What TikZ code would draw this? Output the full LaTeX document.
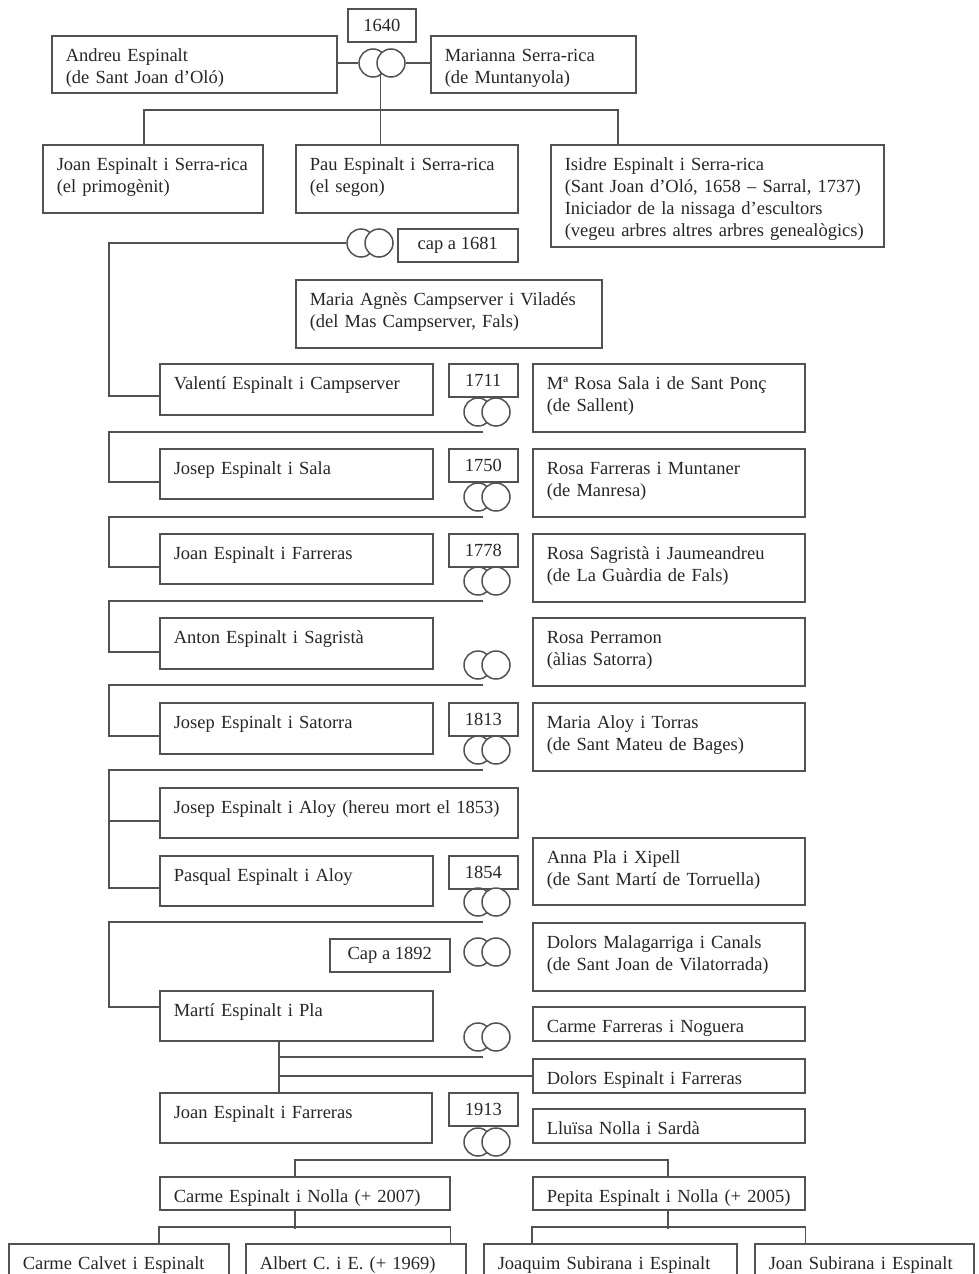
\documentclass[tikz,border=0pt]{standalone}
\usepackage{fontspec}
\setmainfont{Liberation Serif}
\usepackage{tikz}
\usetikzlibrary{positioning}

\tikzset{
    rings/.pic={
        \node[ring] (-l) at (-9,0) {};
        \node[ring, fill=white] (-r) at (9,0) {};
        \coordinate (-c) at (0,0);
        \coordinate (-s) at (-4,20);
    }
}

\begin{document}
\begin{tikzpicture}[
    x=1pt, y=-1pt,
    line width=1.5pt, draw=black!68,
    font=\fontsize{18.5}{22}\selectfont,
    box/.style 2 args={draw, anchor=north west, align=left, text=black!85,
        inner xsep=14pt, inner ysep=0pt,
        /utils/exec={\pgfmathsetmacro\boxtw{#1-28}\pgfmathsetmacro\boxdp{#2-26}},
        text width=\boxtw pt, text height=26pt, text depth=\boxdp pt},
    year/.style={draw, anchor=north west, text=black!85, inner sep=0pt,
        minimum width=#1pt, minimum height=33pt},
    year/.default=69,
    ring/.style={circle, draw, minimum size=28pt, inner sep=0pt}
]
\useasboundingbox (0,0) rectangle (979,1274);
\clip (0,0) rectangle (979,1274);

% Andreu and Marianna
\node[year=68] (y1640) at (347,8) {1640};
\node[box={285}{57}] (andreu) at (51,35) {Andreu Espinalt\\(de Sant Joan d’Oló)};
\node[box={205}{57}] (marianna) at (430,35) {Marianna Serra-rica\\(de Muntanyola)};
\pic (r1640) at (382,63) {rings};

\node[box={220}{68}] (joansr) at (42,144) {Joan Espinalt i Serra-rica\\(el primogènit)};
\node[box={222}{68}] (pau) at (295,144) {Pau Espinalt i Serra-rica\\(el segon)};
\node[box={333}{102}] (isidre) at (550,144) {Isidre Espinalt i Serra-rica\\(Sant Joan d’Oló, 1658 – Sarral, 1737)\\Iniciador de la nissaga d’escultors\\(vegeu arbres altres arbres genealògics)};

% Pau and Maria Agnes
\pic (r1681) at (370,243) {rings};
\node[year=120] (y1681) at (397,228) {cap a 1681};
\node[box={306}{68}] (agnes) at (295,279) {Maria Agnès Campserver i Viladés\\(del Mas Campserver, Fals)};

% generations
\node[box={273}{51}] (valenti) at (159,363) {Valentí Espinalt i Campserver};
\node[year] (y1711) at (448,363) {1711};
\pic (r1711) at (487,412) {rings};
\node[box={272}{68}] (rosasala) at (532,363) {Mª Rosa Sala i de Sant Ponç\\(de Sallent)};

\node[box={273}{50}] (josep1) at (159,448) {Josep Espinalt i Sala};
\node[year] (y1750) at (448,448) {1750};
\pic (r1750) at (487,497) {rings};
\node[box={272}{68}] (rosafarreras) at (532,448) {Rosa Farreras i Muntaner\\(de Manresa)};

\node[box={273}{50}] (joan1) at (159,533) {Joan Espinalt i Farreras};
\node[year] (y1778) at (448,533) {1778};
\pic (r1778) at (487,581) {rings};
\node[box={272}{68}] (rosasagrista) at (532,533) {Rosa Sagristà i Jaumeandreu\\(de La Guàrdia de Fals)};

\node[box={273}{51}] (anton) at (159,617) {Anton Espinalt i Sagristà};
\pic (ranton) at (487,665) {rings};
\node[box={272}{68}] (perramon) at (532,617) {Rosa Perramon\\(àlias Satorra)};

\node[box={273}{51}] (josep2) at (159,702) {Josep Espinalt i Satorra};
\node[year] (y1813) at (448,702) {1813};
\pic (r1813) at (487,750) {rings};
\node[box={272}{68}] (aloy) at (532,702) {Maria Aloy i Torras\\(de Sant Mateu de Bages)};

\node[box={358}{50}] (hereu) at (159,787) {Josep Espinalt i Aloy (hereu mort el 1853)};

\node[box={273}{50}] (pasqual) at (159,855) {Pasqual Espinalt i Aloy};
\node[year] (y1854) at (448,855) {1854};
\pic (r1854) at (487,902) {rings};
\node[box={272}{67}] (annapla) at (532,837) {Anna Pla i Xipell\\(de Sant Martí de Torruella)};

\node[year=120] (y1892) at (329,938) {Cap a 1892};
\pic (r1892) at (487,952) {rings};
\node[box={272}{68}] (malagarriga) at (532,922) {Dolors Malagarriga i Canals\\(de Sant Joan de Vilatorrada)};

\node[box={273}{50}] (marti) at (159,990) {Martí Espinalt i Pla};
\pic (rmarti) at (487,1037) {rings};
\node[box={272}{34}] (carmef) at (532,1006) {Carme Farreras i Noguera};
\node[box={272}{34}] (dolorse) at (532,1058) {Dolors Espinalt i Farreras};

\node[box={272}{50}] (joan2) at (159,1092) {Joan Espinalt i Farreras};
\node[year] (y1913) at (448,1092) {1913};
\pic (r1913) at (487,1142) {rings};
\node[box={272}{34}] (lluisa) at (532,1108) {Lluïsa Nolla i Sardà};

\node[box={290}{33}] (carme) at (159,1176) {Carme Espinalt i Nolla (+ 2007)};
\node[box={272}{33}] (pepita) at (532,1176) {Pepita Espinalt i Nolla (+ 2005)};

\node[box={220}{40}] (calvet) at (8,1243) {Carme Calvet i Espinalt};
\node[box={220}{40}] (albert) at (245,1243) {Albert C. i E. (+ 1969)};
\node[box={253}{40}] (joaquim) at (483,1243) {Joaquim Subirana i Espinalt};
\node[box={219}{40}] (joansub) at (754,1243) {Joan Subirana i Espinalt};

% links
\draw (andreu.east |- r1640-l.west) -- (r1640-l.west);
\draw (r1640-r.east) -- (marianna.west |- r1640-r.east);
\draw (r1640-r.south west) -- (r1640-r.south west |- pau.north);
\coordinate (kids1640) at (r1640-r.south west |- 0,110);
\draw ([xshift=102pt]joansr.north west) |- (kids1640) -| ([xshift=68pt]isidre.north west);

\draw (r1681-l.west) -| ([xshift=-50pt,yshift=-33pt]valenti.north west) -- ([yshift=-33pt]valenti.north west);
\draw (r1711-s) -| ([xshift=-50pt,yshift=-34pt]josep1.north west) -- ([yshift=-34pt]josep1.north west);
\draw (r1750-s) -| ([xshift=-50pt,yshift=-34pt]joan1.north west) -- ([yshift=-34pt]joan1.north west);
\draw (r1778-s) -| ([xshift=-50pt,yshift=-35pt]anton.north west) -- ([yshift=-35pt]anton.north west);
\draw (ranton-s) -| ([xshift=-50pt,yshift=-34pt]josep2.north west) -- ([yshift=-34pt]josep2.north west);
\draw (r1813-s) -| ([xshift=-50pt,yshift=-33pt]pasqual.north west) -- ([yshift=-33pt]pasqual.north west);
\draw ([xshift=-50pt,yshift=-34pt]hereu.north west) -- ([yshift=-34pt]hereu.north west);
\draw (r1854-s) -| ([xshift=-50pt,yshift=-17pt]marti.north west) -- ([yshift=-17pt]marti.north west);

\coordinate (martistem) at ([xshift=120pt]marti.south west);
\draw (martistem) -- (martistem |- joan2.north);
\draw (rmarti-s) -- (rmarti-s -| martistem);
\draw (dolorse.west) -- (dolorse.west -| martistem);

\coordinate (bar1913) at ([yshift=-18pt]r1913-c);
\draw ([xshift=136pt]carme.north west) |- (bar1913) -| ([xshift=136pt]pepita.north west);

\draw ([xshift=136pt]carme.south west) -- ++(0,18);
\draw (calvet.north -| carme.south west) -- ++(0,-16) -| (albert.north -| carme.south east);
\draw ([xshift=136pt]pepita.south west) -- ++(0,18);
\draw (joaquim.north -| pepita.south west) -- ++(0,-16) -| (joansub.north -| pepita.south east);

\end{tikzpicture}
\end{document}
